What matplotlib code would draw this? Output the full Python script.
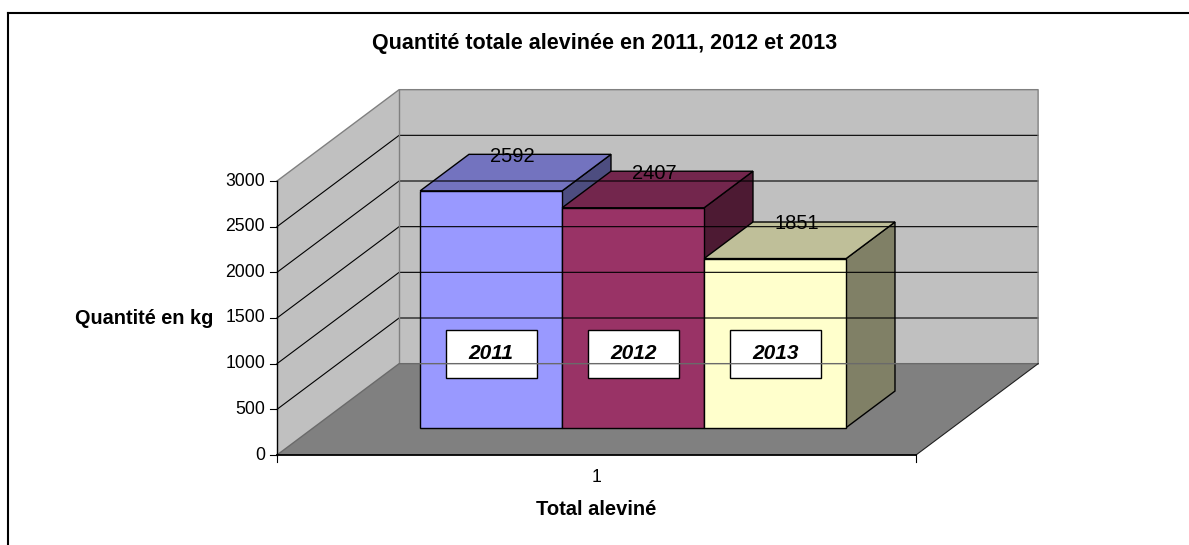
import matplotlib
matplotlib.use("Agg")
import matplotlib.pyplot as plt
from matplotlib.patches import Polygon, Rectangle
from matplotlib.lines import Line2D

plt.rcParams['font.family'] = ['Liberation Sans', 'DejaVu Sans']

# data
years = ['2011', '2012', '2013']
values = [2592, 2407, 1851]
yticks = [0, 500, 1000, 1500, 2000, 2500, 3000]
front_colors = ['#9999FF', '#993366', '#FFFFCC']
top_colors = ['#7373BF', '#73264D', '#BFBF99']
side_colors = ['#4D4D80', '#4D1A33', '#808066']

# pseudo 3d geometry (data units: one bar width on x, kg on y)
W = 4.5          # floor width
DX, DY = 0.86, 1000   # depth vector
YMAX = 3000

fig = plt.figure(figsize=(11.89, 5.45), dpi=100)
ax = fig.add_axes([0, 0, 1, 1])
# px mapping: x=0 at 277px, 142 px per unit ; y=0 at 455px, 274px per 3000
ax.set_xlim(-277 / 142, (1189 - 277) / 142)
ax.set_ylim(-(545 - 455) * 3000 / 274, 455 * 3000 / 274)
ax.axis('off')

wall = '#C0C0C0'
edge = '#808080'

# left wall
ax.add_patch(Polygon([(0, 0), (DX, DY), (DX, DY + YMAX), (0, YMAX)],
                     closed=True, fc=wall, ec='none'))
# back wall
ax.add_patch(Polygon([(DX, DY), (DX + W, DY), (DX + W, DY + YMAX), (DX, DY + YMAX)],
                     closed=True, fc=wall, ec='none'))
# gridlines
for v in yticks[1:-1]:
    ax.plot([0, DX, DX + W], [v, DY + v, DY + v], color='black', lw=0.8)
# wall edges
ax.plot([0, DX, DX + W, DX + W], [YMAX, DY + YMAX, DY + YMAX, DY], color=edge, lw=1)
ax.plot([DX, DX], [DY, DY + YMAX], color=edge, lw=1)
# floor
ax.add_patch(Polygon([(0, 0), (W, 0), (W + DX, DY), (DX, DY)],
                     closed=True, fc='#808080', ec='none'))
ax.plot([0, DX, DX + W], [0, DY, DY], color='#6a6a6a', lw=1)
ax.plot([W, W + DX], [0, DY], color='#202020', lw=0.8)

# axes
ax.plot([0, 0], [0, YMAX], color='black', lw=1)
ax.plot([0, W], [0, 0], color='black', lw=1.3)
tick_x = 7 / 142
tick_y = 7 * 3000 / 274
for v in yticks:
    ax.plot([-tick_x, 0], [v, v], color='black', lw=0.8)
    ax.text(-tick_x - 0.035, v, str(v), ha='right', va='center', fontsize=12.7)
for xv in [0, W]:
    ax.plot([xv, xv], [0, -tick_y], color='black', lw=0.8)
ax.text(W / 2, -250, '1', ha='center', va='center', fontsize=12.7)

# bars
f0, f1 = 0.3, 0.7
a, b = f0 * DX, f0 * DY
c, d = f1 * DX, f1 * DY
for i, (yr, v) in enumerate(zip(years, values)):
    x0 = 0.75 + i
    front = [(x0 + a, b), (x0 + 1 + a, b), (x0 + 1 + a, b + v), (x0 + a, b + v)]
    top = [(x0 + a, b + v), (x0 + 1 + a, b + v), (x0 + 1 + c, d + v), (x0 + c, d + v)]
    side = [(x0 + 1 + a, b), (x0 + 1 + c, d), (x0 + 1 + c, d + v), (x0 + 1 + a, b + v)]
    ax.add_patch(Polygon(side, closed=True, fc=side_colors[i], ec='black', lw=1))
    ax.add_patch(Polygon(top, closed=True, fc=top_colors[i], ec='black', lw=1))
    ax.add_patch(Polygon(front, closed=True, fc=front_colors[i], ec='black', lw=1))
    ax.text(x0 + 0.5 + 0.41, v + 680, str(v), ha='center', va='center', fontsize=14.5)
    cx = x0 + 0.5 + a
    bw, bh = 0.64, 525
    ax.add_patch(Rectangle((cx - bw / 2, 1106 - bh / 2), bw, bh, fc='white', ec='black', lw=1))
    ax.text(cx, 1106, yr, ha='center', va='center', fontsize=15,
            fontweight='bold', fontstyle='italic')

# titles
ax.text(W / 2, -600, 'Total aleviné', ha='center', va='center', fontsize=14.5, fontweight='bold')
ax.text(-0.933, 1500, 'Quantité en kg', ha='center', va='center', fontsize=14.3, fontweight='bold')
fig.text(605 / 1189, 1 - 44 / 545, 'Quantité totale alevinée en 2011, 2012 et 2013',
         ha='center', va='center', fontsize=15.5, fontweight='bold')

# chart frame (left and top only visible)
fig.add_artist(Line2D([8 / 1189, 8 / 1189], [0, 1 - 13 / 545], transform=fig.transFigure,
                      color='black', lw=1.5))
fig.add_artist(Line2D([8 / 1189, 1], [1 - 13 / 545, 1 - 13 / 545], transform=fig.transFigure,
                      color='black', lw=1.5))

plt.savefig('out.png', dpi=100)
